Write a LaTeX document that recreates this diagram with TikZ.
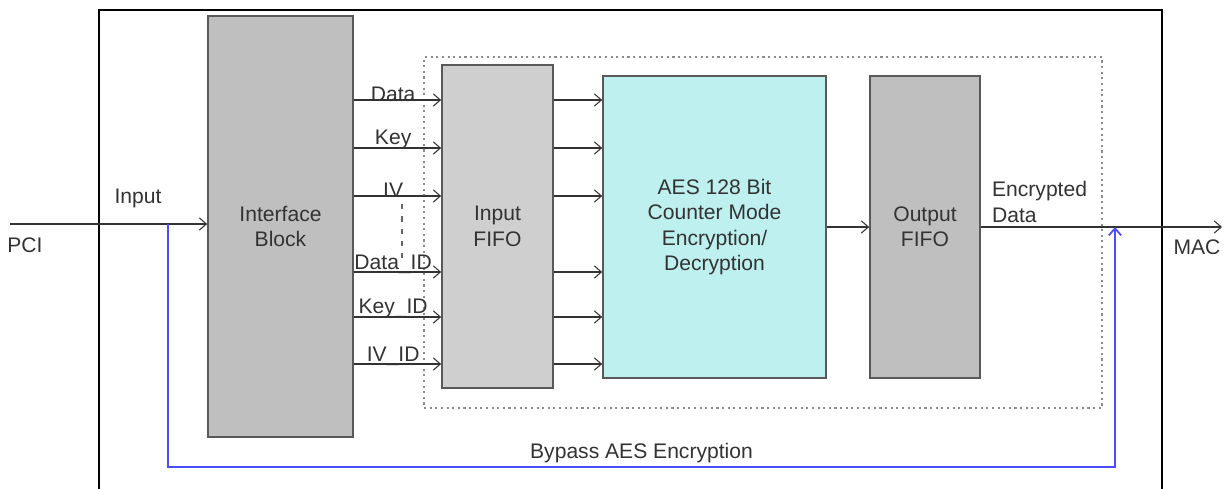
\documentclass[tikz,border=0pt]{standalone}
\usepackage{fontspec}
\setmainfont{Liberation Sans}
\usepackage{tikz}
\usetikzlibrary{arrows.meta}
\definecolor{aescyan}{RGB}{190,240,240}
\tikzset{
    blk/.style={rectangle, draw=black!65, line width=1pt, align=center,
      text=black!80, font=\fontsize{12}{14.5}\selectfont},
    sig/.style={-{Straight Barb[length=4pt,width=7pt]}, line width=0.6pt, draw=black!80},
    lbl/.style={text=black!80, font=\fontsize{12}{14.5}\selectfont, inner sep=1pt},
}

\begin{document}
\begin{tikzpicture}[x=0.02cm, y=-0.02cm]
\useasboundingbox (0,0) rectangle (1225,489);
\clip (0,0) rectangle (1225,489);
% outer frame, runs off the bottom
\draw[line width=1pt] (99,500) -- (99,10) -- (1162,10) -- (1162,500);
\node[rectangle, draw=black!45, dotted, line width=1.2pt, minimum width=13.56cm,
    minimum height=7.02cm] (grp) at (763,232.5) {};

\node[blk, fill=black!25, minimum width=2.9cm, minimum height=8.42cm] (intf) at (280.5,226.5) {Interface\\Block};
\node[blk, fill=black!19, minimum width=2.22cm, minimum height=6.46cm] (infifo) at (497.5,226.5) {Input\\FIFO};
\node[blk, fill=aescyan, minimum width=4.46cm, minimum height=6.04cm] (aes) at (714.5,227) {AES 128 Bit\\Counter Mode\\Encryption/\\Decryption};
\node[blk, fill=black!25, minimum width=2.2cm, minimum height=6.04cm] (outfifo) at (925,227) {Output\\FIFO};

% signals into and out of the input fifo
\foreach \y/\lab in {100/Data,148/Key,196/IV,272/Data\_ID,317/Key\_ID,364/IV\_ID}{
  \draw[sig] (intf.east |- 0,\y) -- node[lbl, above=-2pt, pos=0.45] {\lab} (infifo.west |- 0,\y);
  \draw[sig] (infifo.east |- 0,\y) -- (aes.west |- 0,\y);
}
\draw[black!60, dash pattern=on 3pt off 4pt, line width=0.8pt] (402,204) -- (402,258);

\coordinate (pci) at (10,224);
\coordinate (tap) at (168,224);
\coordinate (join) at (1115,227);
\coordinate (mac) at (1222,227);
\draw[sig] (pci) -- (pci -| intf.west);
\draw[sig] (aes.east |- 0,227) -- (outfifo.west |- 0,227);
\draw[sig] (outfifo.east |- 0,227) -- (mac);
\draw[sig, draw=blue!70, line width=1pt] (tap) -- (tap |- 0,467)
  -- node[lbl, above=1pt] {Bypass AES Encryption} (join |- 0,467) -- (join);

\node[lbl] (inlbl) at (138,198) {Input};
\node[lbl] (pcilbl) at (25,245) {PCI};
\node[lbl] (maclbl) at (1197,247) {MAC};
\node[lbl, align=left, anchor=west] (enclbl) at (990,202) {Encrypted\\Data};
\end{tikzpicture}
\end{document}
